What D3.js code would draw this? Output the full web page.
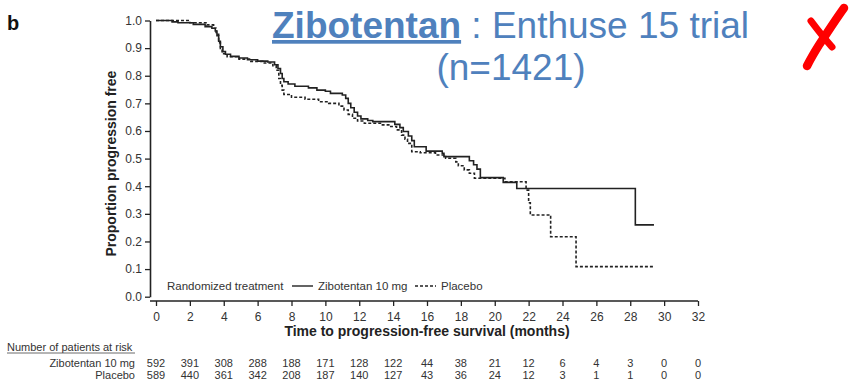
<!DOCTYPE html>
<html>
<head>
<meta charset="utf-8">
<script src="https://cdn.jsdelivr.net/npm/d3@7"></script>
<style>
  html, body { margin: 0; padding: 0; background: #fff; }
  svg { display: block; font-family: "Liberation Sans", Arial, Helvetica, sans-serif; }
</style>
</head>
<body>
<svg id="chart" width="859" height="389"></svg>
<script>
// Kaplan–Meier step data: [time in months, proportion progression free after that time]
const zibotentanSteps = [
  [0, 1.000], [0.95, 0.995], [1.3, 0.992], [2.2, 0.986], [2.9, 0.978], [3.3, 0.972],
  [3.5, 0.962], [3.6, 0.945], [3.7, 0.925], [3.8, 0.905], [3.95, 0.888], [4.1, 0.878],
  [4.4, 0.870], [4.9, 0.864], [5.4, 0.858], [6.0, 0.853], [6.6, 0.850], [7.0, 0.840],
  [7.2, 0.826], [7.35, 0.808], [7.45, 0.790], [7.55, 0.778], [7.8, 0.770], [8.2, 0.762],
  [9.0, 0.756], [9.5, 0.748], [10.0, 0.744], [10.3, 0.736], [11.0, 0.730], [11.2, 0.718],
  [11.35, 0.700], [11.5, 0.684], [11.7, 0.668], [11.9, 0.654], [12.1, 0.644], [12.5, 0.638],
  [12.8, 0.634], [14.1, 0.624], [14.4, 0.612], [14.6, 0.598], [14.9, 0.582], [15.1, 0.565],
  [15.25, 0.543], [15.95, 0.527], [16.9, 0.519], [17.0, 0.507], [18.5, 0.492], [18.75, 0.478],
  [18.95, 0.462], [19.15, 0.431], [20.5, 0.414], [21.3, 0.392], [28.3, 0.260]
];
const zibotentanEnd = 29.4;

const placeboSteps = [
  [0, 1.000], [2.0, 0.992], [3.0, 0.984], [3.4, 0.972], [3.55, 0.950], [3.7, 0.920],
  [3.8, 0.895], [3.9, 0.880], [4.2, 0.869], [4.9, 0.860], [5.6, 0.852], [6.3, 0.846],
  [6.9, 0.836], [7.1, 0.820], [7.25, 0.790], [7.35, 0.765], [7.45, 0.748], [7.55, 0.732],
  [8.0, 0.722], [8.8, 0.715], [9.6, 0.706], [10.2, 0.700], [10.8, 0.690], [11.1, 0.676],
  [11.35, 0.660], [11.6, 0.646], [11.9, 0.636], [12.3, 0.628], [13.3, 0.622], [13.8, 0.616],
  [14.2, 0.604], [14.5, 0.585], [14.7, 0.570], [14.85, 0.555], [15.1, 0.525], [15.6, 0.521],
  [16.5, 0.513], [17.1, 0.501], [17.7, 0.488], [17.85, 0.474], [18.2, 0.459], [18.5, 0.447],
  [18.8, 0.429], [20.6, 0.416], [21.85, 0.386], [22.0, 0.340], [22.1, 0.296], [23.3, 0.217],
  [24.8, 0.109]
];
const placeboEnd = 29.45;

// Axis ticks
const xTicks = [0, 2, 4, 6, 8, 10, 12, 14, 16, 18, 20, 22, 24, 26, 28, 30, 32];
const yTicks = [0.0, 0.1, 0.2, 0.3, 0.4, 0.5, 0.6, 0.7, 0.8, 0.9, 1.0];

// Number at risk, one value per x tick
const riskGroups = ["Zibotentan 10 mg", "Placebo"];
const zibotentanAtRisk = [592, 391, 308, 288, 188, 171, 128, 122, 44, 38, 21, 12, 6, 4, 3, 0, 0];
const placeboAtRisk    = [589, 440, 361, 342, 208, 187, 140, 127, 43, 36, 24, 12, 3, 1, 1, 0, 0];

const svg = d3.select("#chart");
const ink = "#222";

const x = d3.scaleLinear().domain([0, 32]).range([156, 698]);
const y = d3.scaleLinear().domain([0, 1]).range([296.7, 20.5]);

// ---- Y axis ----
const yAxis = d3.axisLeft(y).tickValues(yTicks).tickFormat(d3.format(".1f"))
  .tickSizeInner(5).tickSizeOuter(0).tickPadding(3);
const gy = svg.append("g").attr("transform", "translate(150,0)").call(yAxis);
gy.select(".domain").attr("stroke", ink).attr("stroke-width", 1.6);
gy.selectAll(".tick line").attr("stroke", ink).attr("stroke-width", 1.3);
gy.selectAll(".tick text").attr("fill", "#333").style("font-size", "12px")
  .style("font-family", "Liberation Sans, Arial, sans-serif");

// ---- X axis ----
const xAxis = d3.axisBottom(x).tickValues(xTicks).tickFormat(d3.format("d"))
  .tickSizeInner(5).tickSizeOuter(0).tickPadding(6);
const gx = svg.append("g").attr("transform", "translate(0,301)").call(xAxis);
gx.select(".domain").attr("d", `M150,0H${x(32)}`).attr("stroke", ink).attr("stroke-width", 1.6);
gx.selectAll(".tick line").attr("stroke", ink).attr("stroke-width", 1.3);
gx.selectAll(".tick text").attr("fill", "#333").style("font-size", "12px")
  .style("font-family", "Liberation Sans, Arial, sans-serif");

// Axis titles
svg.append("text")
  .attr("x", (x(0) + x(32)) / 2 - 0).attr("y", 336)
  .attr("text-anchor", "middle").attr("fill", ink)
  .style("font-size", "14px").style("font-weight", "bold")
  .text("Time to progression-free survival (months)");

svg.append("text")
  .attr("transform", `translate(116,${(y(0) + y(1)) / 2 + 5}) rotate(-90)`)
  .attr("text-anchor", "middle").attr("fill", ink)
  .style("font-size", "14px").style("font-weight", "bold")
  .text("Proportion progression free");

// ---- Survival curves ----
const stepLine = d3.line()
  .x(d => x(d[0])).y(d => y(d[1]))
  .curve(d3.curveStepAfter);

function withEnd(steps, end) {
  return steps.concat([[end, steps[steps.length - 1][1]]]);
}

svg.append("path")
  .datum(withEnd(zibotentanSteps, zibotentanEnd))
  .attr("d", stepLine)
  .attr("fill", "none").attr("stroke", ink).attr("stroke-width", 1.6);

svg.append("path")
  .datum(withEnd(placeboSteps, placeboEnd))
  .attr("d", stepLine)
  .attr("fill", "none").attr("stroke", ink).attr("stroke-width", 1.6)
  .attr("stroke-dasharray", "3,2");

// ---- Legend ----
const legY = 286;
svg.append("text").attr("x", 167).attr("y", legY + 4).attr("fill", "#333")
  .style("font-size", "11.5px").text("Randomized treatment");
svg.append("line").attr("x1", 292).attr("x2", 313).attr("y1", legY).attr("y2", legY)
  .attr("stroke", ink).attr("stroke-width", 1.4);
svg.append("text").attr("x", 318).attr("y", legY + 4).attr("fill", "#333")
  .style("font-size", "11.5px").text(riskGroups[0]);
svg.append("line").attr("x1", 415).attr("x2", 436).attr("y1", legY).attr("y2", legY)
  .attr("stroke", ink).attr("stroke-width", 1.4).attr("stroke-dasharray", "3,2");
svg.append("text").attr("x", 441).attr("y", legY + 4).attr("fill", "#333")
  .style("font-size", "11.5px").text(riskGroups[1]);

// ---- Number at risk table ----
svg.append("text").attr("x", 7).attr("y", 351).attr("fill", "#333")
  .style("font-size", "11px").text("Number of patients at risk");
svg.append("line").attr("x1", 7).attr("x2", 135).attr("y1", 353).attr("y2", 353)
  .attr("stroke", "#444").attr("stroke-width", 0.8);

const riskRows = [zibotentanAtRisk, placeboAtRisk];
const rowY = [366.5, 378.5];
riskRows.forEach((row, i) => {
  svg.append("text").attr("x", 135).attr("y", rowY[i]).attr("text-anchor", "end")
    .attr("fill", "#333").style("font-size", "11px").text(riskGroups[i]);
  svg.append("g").selectAll("text").data(row).join("text")
    .attr("x", (d, j) => x(xTicks[j])).attr("y", rowY[i])
    .attr("text-anchor", "middle").attr("fill", "#333").style("font-size", "11px")
    .text(d => d);
});

// ---- Panel letter ----
svg.append("text").attr("x", 7).attr("y", 30).attr("fill", "#111")
  .style("font-size", "20px").style("font-weight", "bold").text("b");

// ---- Title ----
const blue = "#4F81BD";
const title = svg.append("text").attr("x", 272).attr("y", 38).attr("fill", blue)
  .style("font-size", "37px");
title.append("tspan").style("font-weight", "bold").style("text-decoration", "underline")
  .text("Zibotentan");
title.append("tspan").text(" : Enthuse 15 trial");
svg.append("text").attr("x", 511).attr("y", 80).attr("text-anchor", "middle")
  .attr("fill", blue).style("font-size", "37px").text("(n=1421)");

// ---- Red cross mark ----
const cross = svg.append("g").attr("fill", "none").attr("stroke", "#FF0000")
  .attr("stroke-linecap", "round").attr("stroke-linejoin", "round");
cross.append("path").attr("d", "M844,8 C836,19 827,33 819,45 C814,53 810,60 807,66")
  .attr("stroke-width", 8.5);
cross.append("path").attr("d", "M811,21 C817,29 824,38 832,47")
  .attr("stroke-width", 7);
</script>
</body>
</html>
